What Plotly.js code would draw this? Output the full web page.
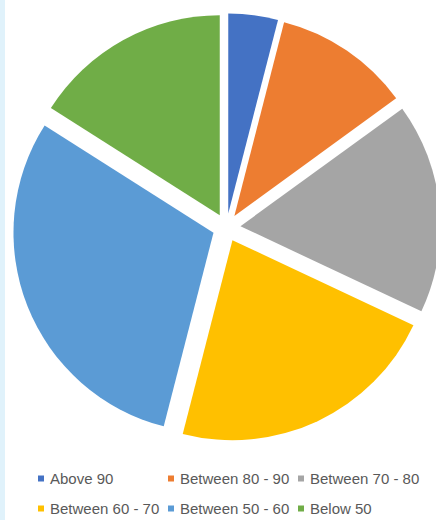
<!DOCTYPE html>
<html>
<head>
<meta charset="utf-8">
<script src="https://cdn.plot.ly/plotly-3.0.1.min.js"></script>
<style>
  html, body { margin: 0; padding: 0; background: #ffffff; overflow: hidden; }
  #chart { width: 450px; height: 520px; }
</style>
</head>
<body>
<div id="chart"></div>
<script>
// Data
const categories = ["Above 90", "Between 80 - 90", "Between 70 - 80", "Between 60 - 70", "Between 50 - 60", "Below 50"];
const shares = [4, 11, 17, 22, 30, 16];
const sliceColors = ["#4472C4", "#ED7D31", "#A5A5A5", "#FFC000", "#5B9BD5", "#70AD47"];

const W = 450, H = 520;

const trace = {
  type: "pie",
  labels: categories,
  values: shares,
  sort: false,
  direction: "clockwise",
  rotation: 0,
  pull: 0.07,
  textinfo: "none",
  hoverinfo: "label+value+percent",
  marker: { colors: sliceColors, line: { width: 0 } },
  domain: { x: [12.5 / W, 440.5 / W], y: [1 - 441.5 / H, 1 - 13.5 / H] },
  showlegend: false
};

// Legend built from the category arrays (3 columns x 2 rows)
const colX = [50, 180, 310];   // text left edge, px
const rowY = [478.5, 508.5];   // row centre, px
const annotations = [];
const shapes = [
  { type: "rect", xref: "paper", yref: "paper", x0: 0, x1: 5 / W, y0: 0, y1: 1,
    fillcolor: "#E0F2FB", line: { width: 0 }, layer: "below" }
];
categories.forEach((c, i) => {
  const col = i % 3, row = Math.floor(i / 3);
  const tx = colX[col], ty = rowY[row];
  annotations.push({
    xref: "paper", yref: "paper", x: (tx - 2) / W, y: 1 - ty / H,
    xanchor: "left", yanchor: "middle", showarrow: false,
    text: c, font: { family: "Liberation Sans, Arial, sans-serif", size: 15, color: "#595959" }
  });
  const mx = tx - 9;
  shapes.push({
    type: "rect", xref: "paper", yref: "paper",
    x0: (mx - 3) / W, x1: (mx + 3) / W, y0: 1 - (ty + 3) / H, y1: 1 - (ty - 3) / H,
    fillcolor: sliceColors[i], line: { width: 0 }
  });
});

const layout = {
  width: W, height: H,
  margin: { l: 0, r: 0, t: 0, b: 0, pad: 0 },
  paper_bgcolor: "#ffffff",
  showlegend: false,
  annotations: annotations,
  shapes: shapes
};

Plotly.newPlot("chart", [trace], layout, { displayModeBar: false, staticPlot: true });
</script>
</body>
</html>
